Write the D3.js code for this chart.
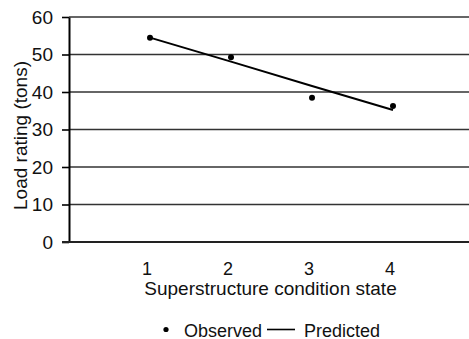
<!DOCTYPE html>
<html>
<head>
<meta charset="utf-8">
<script src="https://cdn.jsdelivr.net/npm/d3@7"></script>
<style>
  html, body { margin: 0; padding: 0; background: #fff; }
  svg { display: block; }
  text { font-family: "Liberation Sans", Arial, sans-serif; fill: #111; }
</style>
</head>
<body>
<svg id="chart" width="469" height="339"></svg>
<script>
// Condition states and load ratings (tons)
const states = [1, 2, 3, 4];
const observed = [54.5, 49.3, 38.5, 36.3];
const predicted = [54.5, 48.1, 41.6, 35.2];
const yTicks = [0, 10, 20, 30, 40, 50, 60];
const xTickLabels = ["1", "2", "3", "4"];
const xTitle = "Superstructure condition state";
const yTitle = "Load rating (tons)";
const legendLabels = ["Observed", "Predicted"];

const svg = d3.select("#chart");
const W = 469;

const x = d3.scaleLinear().domain([0, 5]).range([69, 474]);
const y = d3.scaleLinear().domain([0, 60]).range([242, 17]);
const fs = 19;

// horizontal gridlines
svg.append("g").selectAll("line")
  .data(yTicks.filter(d => d > 0))
  .join("line")
  .attr("x1", x(0)).attr("x2", W)
  .attr("y1", d => y(d)).attr("y2", d => y(d))
  .attr("stroke", "#333").attr("stroke-width", 1.6);

// y axis with ticks and labels
const yAxis = d3.axisLeft(y).tickValues(yTicks).tickSize(7).tickPadding(9).tickSizeOuter(0);
const gy = svg.append("g").attr("transform", `translate(${x(0)},0)`).call(yAxis);
gy.select(".domain").attr("stroke", "#000").attr("stroke-width", 2);
gy.selectAll(".tick line").attr("stroke", "#000").attr("stroke-width", 1.6);
gy.selectAll(".tick text")
  .style("font-family", '"Liberation Sans", Arial, sans-serif')
  .style("font-size", fs + "px").attr("fill", "#111");

// x axis baseline
svg.append("line")
  .attr("x1", x(0) - 7).attr("x2", W)
  .attr("y1", y(0)).attr("y2", y(0))
  .attr("stroke", "#222").attr("stroke-width", 2);

// x tick labels
svg.append("g").selectAll("text")
  .data(states)
  .join("text")
  .attr("x", d => x(d) - 3)
  .attr("y", 275)
  .attr("text-anchor", "middle")
  .style("font-size", "18px")
  .text((d, i) => xTickLabels[i]);

// axis titles
svg.append("text")
  .attr("x", 270.5).attr("y", 294.5)
  .attr("text-anchor", "middle")
  .style("font-size", fs + "px")
  .text(xTitle);

svg.append("text")
  .attr("transform", "translate(27,135.5) rotate(-90)")
  .attr("text-anchor", "middle")
  .style("font-size", fs + "px")
  .text(yTitle);

// predicted line
const line = d3.line().x((d, i) => x(states[i])).y(d => y(d));
svg.append("path")
  .datum(predicted)
  .attr("d", line)
  .attr("fill", "none")
  .attr("stroke", "#000")
  .attr("stroke-width", 2);

// observed points
svg.append("g").selectAll("circle")
  .data(observed)
  .join("circle")
  .attr("cx", (d, i) => x(states[i]))
  .attr("cy", d => y(d))
  .attr("r", 3)
  .attr("fill", "#000");

// legend
const lfs = 18;
const lg = svg.append("g");
lg.append("circle").attr("cx", 166).attr("cy", 329.5).attr("r", 2.6).attr("fill", "#000");
lg.append("text").attr("x", 184).attr("y", 336.5).style("font-size", lfs + "px").text(legendLabels[0]);
lg.append("line").attr("x1", 267).attr("x2", 295).attr("y1", 329.5).attr("y2", 329.5)
  .attr("stroke", "#000").attr("stroke-width", 1.6);
lg.append("text").attr("x", 304).attr("y", 336.5).style("font-size", lfs + "px").text(legendLabels[1]);
</script>
</body>
</html>
